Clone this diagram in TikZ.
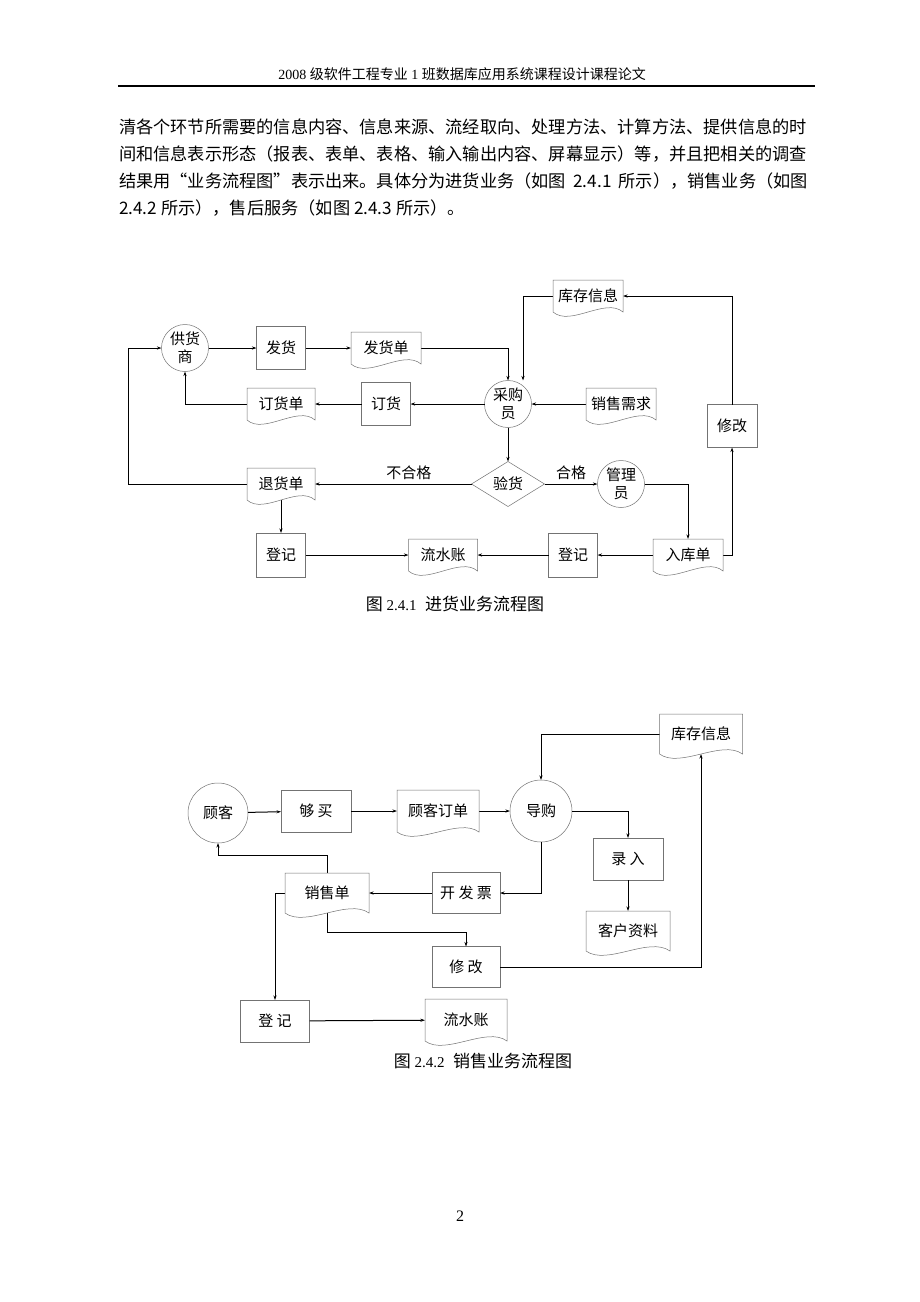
\documentclass[tikz,border=0pt]{standalone}
\usepackage{fontspec}
\setmainfont{Liberation Serif}
\newfontfamily\cjk{Noto Sans CJK SC}
\usetikzlibrary{shapes.geometric, calc, arrows.meta}

\begin{document}
\begin{tikzpicture}[x=1pt, y=-1pt, line join=miter,
	every node/.style={font=\cjk\fontsize{15}{18}\selectfont, inner sep=0pt, outer sep=0pt},
	box/.style={draw=black!55, line width=0.5pt, rectangle, minimum width=49pt, minimum height=43pt},
	circ/.style={draw=black!55, line width=0.5pt, circle, minimum size=47pt, align=center},
	doc/.style={rectangle, minimum width=70pt, minimum height=32pt},
	outline/.style={draw=black!55, line width=0.5pt},
	arr/.style={-{Stealth[length=4.5pt, width=3pt]}, line width=1pt},
	lbl/.style={font=\cjk\fontsize{15}{18}\selectfont, above=4pt}]
	
	\fill[white] (0, 0) rectangle (920, 1302);
	\useasboundingbox (0, 0) rectangle (920, 1302);
	
	% Page header and text
	\node[font=\fontsize{14}{16}\selectfont] (head) at (462, 74) {2008 {\cjk 级软件工程专业} 1 {\cjk 班数据库应用系统课程设计课程论文}};
	\draw[line width=1.4pt] (118, 86) -- (815, 86);
	\node[anchor=west, font=\cjk\fontsize{17.2}{20}\selectfont] (line1) at (119, 127) {清各个环节所需要的信息内容、信息来源、流经取向、处理方法、计算方法、提供信息的时};
	\node[anchor=west, font=\cjk\fontsize{17.2}{20}\selectfont] (line2) at (119, 154) {间和信息表示形态（报表、表单、表格、输入输出内容、屏幕显示）等，并且把相关的调查};
	\node[anchor=west, font=\cjk\fontsize{17.2}{20}\selectfont] (line3) at (119, 181) {\makebox[689pt][s]{结果用“业务流程图”表示出来。具体分为进货业务（如图 2.4.1 所示），销售业务（如图}};
	\node[anchor=west, font=\cjk\fontsize{17.2}{20}\selectfont] (line4) at (119, 208) {2.4.2 所示），售后服务（如图 2.4.3 所示）。};
	
	% Figure 2.4.1
	\node[circ] (ghs) at (185, 348) {供货\\商};
	\node[box] (fh) at (281, 348) {发货};
	\node[doc] (fhd) at (386, 348) {发货单};
	\node[doc] (kcxx1) at (588, 296) {库存信息};
	\node[doc, minimum width=68pt] (dhd) at (281, 404) {订货单};
	\node[box] (dh) at (386, 404) {订货};
	\node[circ] (cgy) at (508, 404) {采购\\员};
	\node[doc] (xsxq) at (621, 404) {销售需求};
	\node[box, minimum width=50pt] (xg1) at (732, 426) {修改};
	\node[diamond, draw=black!55, line width=0.5pt, minimum width=73pt, minimum height=45pt, aspect=1.6] (yh) at (508, 484) {验货};
	\node[circ] (gly) at (621, 484) {管理\\员};
	\node[doc, minimum width=68pt] (thd) at (281, 484) {退货单};
	\node[box, minimum height=44pt] (dj1) at (281, 555) {登记};
	\node[doc, minimum width=69pt] (lsz1) at (443, 555) {流水账};
	\node[box, minimum height=44pt] (dj3) at (573, 555) {登记};
	\node[doc] (rkd) at (688, 555) {入库单};
	\coordinate (back) at (128, 0);
	
	\draw[arr] (ghs) -- (fh);
	\draw[arr] (fh) -- (fhd);
	\draw[arr] (fhd.east) -| (cgy.north);
	\draw[arr] (kcxx1.west) -| ($(cgy.north)+(15, 0)$);
	\draw[arr] (xg1.north) |- (kcxx1.east);
	\draw[arr] (xsxq) -- (cgy);
	\draw[arr] (cgy) -- (dh);
	\draw[arr] (dh) -- (dhd);
	\draw[arr] (dhd.west) -| (ghs.south);
	\draw[arr] (cgy) -- (yh);
	\draw[arr] (yh) -- node[lbl] {合格} (gly);
	\draw[arr] (yh) -- node[lbl, pos=0.4] {不合格} (thd);
	\draw[arr] (thd.west) -| (back |- ghs.west) -- (ghs.west);
	\draw[arr] (thd.south) -- (dj1.north);
	\draw[arr] (dj1) -- (lsz1);
	\draw[arr] (dj3) -- (lsz1);
	\draw[arr] (rkd) -- (dj3);
	\draw[arr] (gly.east) -| (rkd.north);
	\draw[arr] (rkd.east) -| (xg1.south);
	
	\node[font=\cjk\fontsize{17}{20}\selectfont] (cap1) at (455, 604) {图 {\rmfamily\fontsize{15}{18}\selectfont 2.4.1}\enspace 进货业务流程图};
	
	% Figure 2.4.2
	\node[circ, minimum size=60pt] (gk) at (218, 813) {顾客};
	\node[box, minimum width=70pt, minimum height=42pt] (gm) at (316, 811) {够 买};
	\node[doc, minimum width=82pt, minimum height=42pt] (gkdd) at (438, 811) {顾客订单};
	\node[circ, minimum size=62pt] (dg) at (541, 811) {导购};
	\node[doc, minimum width=83pt, minimum height=40pt] (kcxx2) at (701, 734) {库存信息};
	\node[box, minimum width=70pt, minimum height=42pt] (lr) at (628, 859) {录 入};
	\node[doc, minimum width=84pt, minimum height=40pt] (khzl) at (628, 931) {客户资料};
	\node[box, minimum width=68pt, minimum height=41pt] (kfp) at (466, 893) {开 发 票};
	\node[doc, minimum width=84pt, minimum height=40pt] (xsd) at (327, 893) {销售单};
	\node[box, minimum width=68pt, minimum height=41pt] (xg2) at (466, 967) {修 改};
	\node[box, minimum width=69pt, minimum height=42pt] (dj2) at (275, 1021) {登 记};
	\node[doc, minimum width=82pt, minimum height=42pt] (lsz2) at (466, 1020) {流水账};
	\coordinate (up) at (0, 855);
	\coordinate (down) at (0, 932);
	
	\draw[arr] (gk) -- (gm);
	\draw[arr] (gm) -- (gkdd);
	\draw[arr] (gkdd) -- (dg);
	\draw[arr] (kcxx2.west) -| (dg.north);
	\draw[arr] (dg.east) -| (lr.north);
	\draw[arr] (lr) -- (khzl);
	\draw[arr] (dg.south) |- (kfp.east);
	\draw[arr] (kfp) -- (xsd);
	\draw[arr] (xsd.north) -- (xsd.north |- up) -| (gk.south);
	\draw[arr] (xsd.west) -| (dj2.north);
	\draw[arr] (xsd.south) -- (xsd.south |- down) -| (xg2.north);
	\draw[arr] (dj2) -- (lsz2);
	\draw[arr] (xg2.east) -| (kcxx2.south);
	
	\node[font=\cjk\fontsize{17}{20}\selectfont] (cap2) at (483, 1061) {图 {\rmfamily\fontsize{15}{18}\selectfont 2.4.2}\enspace 销售业务流程图};
	
	% wavy bottoms of the document boxes
	\foreach \d in {fhd, kcxx1, dhd, xsxq, thd, lsz1, rkd, gkdd, kcxx2, khzl, xsd, lsz2}
		\draw[outline] (\d.south west) -- (\d.north west) -- (\d.north east) -- (\d.south east)
			.. controls ($(\d.south)!0.5!(\d.south east)+(0, -15)$) and ($(\d.south west)!0.5!(\d.south)+(0, 15)$) .. (\d.south west);
	
	% Page number
	\node[font=\fontsize{16}{18}\selectfont] (page) at (460, 1216) {2};
	
\end{tikzpicture}
\end{document}
